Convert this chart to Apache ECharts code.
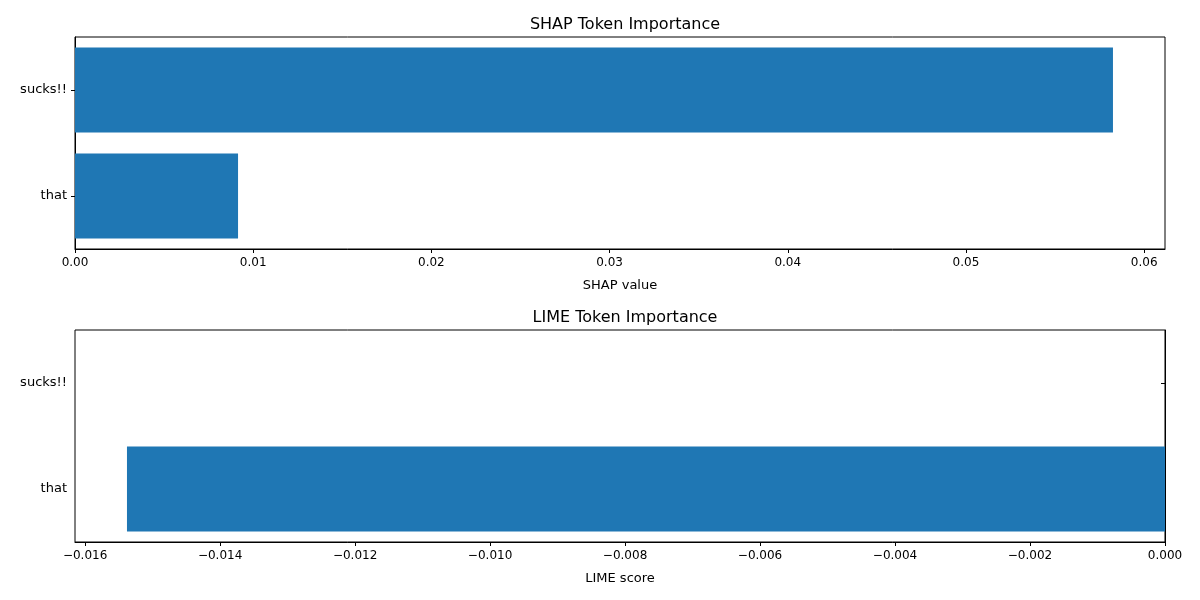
<!DOCTYPE html>
<html>
<head>
<meta charset="utf-8">
<script src="https://cdn.jsdelivr.net/npm/echarts@6/dist/echarts.min.js"></script>
<style>html,body{margin:0;padding:0;background:#fff}#c{width:1200px;height:600px}</style>
</head>
<body>
<div id="c"></div>
<script>
// tokens, bottom to top
var tokens = ['that', 'sucks!!'];
var shapValues = [0.00915, 0.05825];
var limeValues = [-0.01538, 0];
var shapTicks = [0, 0.01, 0.02, 0.03, 0.04, 0.05, 0.06];
var limeTicks = [-0.016, -0.014, -0.012, -0.010, -0.008, -0.006, -0.004, -0.002, 0];

var font = 'DejaVu Sans';
function fmt(d) {
    return function (v) { var s = Math.abs(v).toFixed(d); return (v < -1e-12 ? '\u2212' : '') + s; };
}
function xAxis(idx, min, max, ticks, d, name) {
    return {
        type: 'value', gridIndex: idx, min: min, max: max,
        name: name, nameLocation: 'middle', nameGap: 30,
        nameTextStyle: { color: '#000', fontSize: 13, fontFamily: font },
        axisLine: { show: true, lineStyle: { color: '#000' } },
        axisTick: { show: true, length: 4, lineStyle: { color: '#000' }, customValues: ticks },
        axisLabel: { color: '#000', fontSize: 12, fontFamily: font, margin: 8, formatter: fmt(d), customValues: ticks },
        splitLine: { show: false }
    };
}
function yAxis(idx) {
    return {
        type: 'category', gridIndex: idx, data: tokens,
        axisLine: { show: true, lineStyle: { color: '#000' } },
        axisTick: { show: true, alignWithLabel: true, length: 4, lineStyle: { color: '#000' } },
        axisLabel: { color: '#000', fontSize: 13, fontFamily: font, margin: 8 }
    };
}
var chart = echarts.init(document.getElementById('c'), null, { renderer: 'canvas' });
chart.setOption({
    animation: false,
    title: [
        { text: 'SHAP Token Importance', left: 620, top: 12, textAlign: 'center', textStyle: { fontSize: 16, fontWeight: 'normal', color: '#000', fontFamily: font } },
        { text: 'LIME Token Importance', left: 620, top: 305, textAlign: 'center', textStyle: { fontSize: 16, fontWeight: 'normal', color: '#000', fontFamily: font } }
    ],
    grid: [
        { left: 75, right: 35, top: 37, height: 212, show: true, borderColor: '#000', borderWidth: 1 },
        { left: 75, right: 35, top: 330, height: 212, show: true, borderColor: '#000', borderWidth: 1 }
    ],
    xAxis: [
        xAxis(0, 0, 0.06117, shapTicks, 2, 'SHAP value'),
        xAxis(1, -0.01615, 0, limeTicks, 3, 'LIME score')
    ],
    yAxis: [yAxis(0), yAxis(1)],
    series: [
        { type: 'bar', xAxisIndex: 0, yAxisIndex: 0, data: shapValues, barCategoryGap: '20%', itemStyle: { color: '#1f77b4' } },
        { type: 'bar', xAxisIndex: 1, yAxisIndex: 1, data: limeValues, barCategoryGap: '20%', itemStyle: { color: '#1f77b4' } }
    ]
});
</script>
</body>
</html>
